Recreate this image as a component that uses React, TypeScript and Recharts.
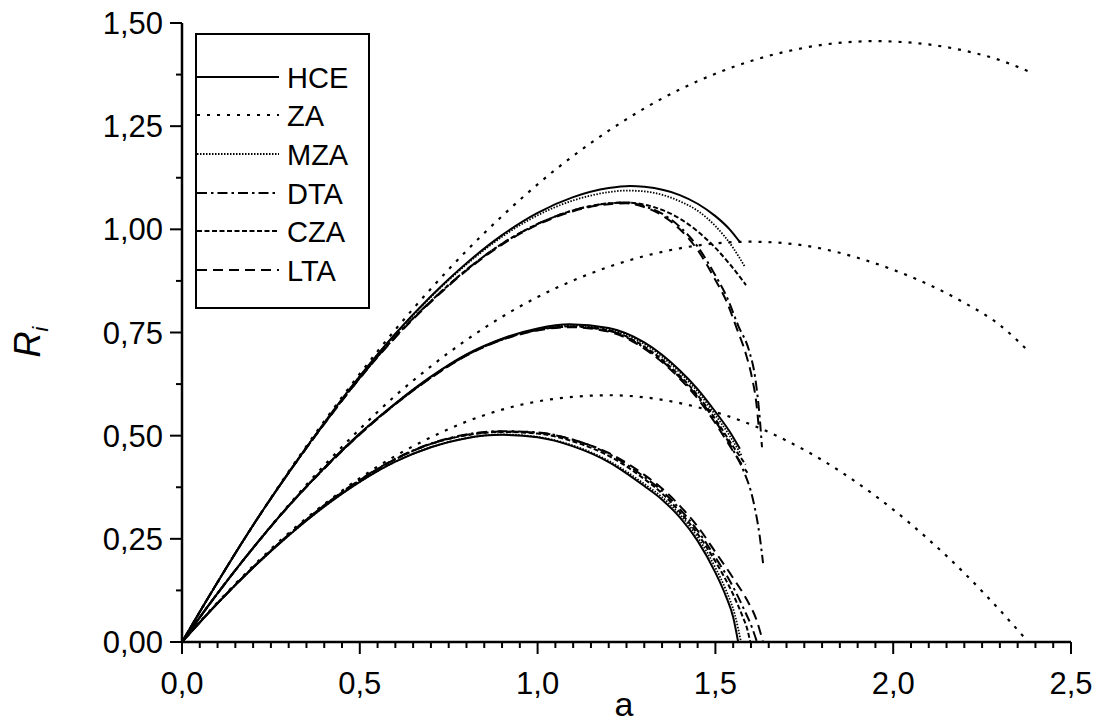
import React from 'react';
import { LineChart, Line, XAxis, YAxis } from 'recharts';

type Pt = [number, number];

// axis ticks
const X_MAJOR = [0, 0.5, 1, 1.5, 2, 2.5];
const Y_MAJOR = [0, 0.25, 0.5, 0.75, 1, 1.25, 1.5];
const X_TICKS = Array.from({ length: 51 }, (_, i) => +(i * 0.05).toFixed(2));
const Y_TICKS = Array.from({ length: 13 }, (_, i) => i * 0.125);

// upper family
const HCE_1: Pt[] = [[0, 0], [0.1, 0.145], [0.2, 0.283], [0.3, 0.411], [0.4, 0.531], [0.5, 0.644], [0.6, 0.747], [0.7, 0.838], [0.8, 0.918], [0.9, 0.986], [1.0, 1.04], [1.1, 1.078], [1.2, 1.1], [1.26, 1.105], [1.3, 1.103], [1.4, 1.083], [1.45, 1.062], [1.5, 1.032], [1.54, 1.0], [1.569, 0.969]];
const ZA_1: Pt[] = [[0, 0], [0.1, 0.145], [0.2, 0.283], [0.3, 0.413], [0.4, 0.535], [0.5, 0.65], [0.6, 0.757], [0.7, 0.856], [0.8, 0.948], [0.9, 1.032], [1.0, 1.109], [1.1, 1.178], [1.2, 1.239], [1.3, 1.293], [1.4, 1.339], [1.5, 1.377], [1.6, 1.408], [1.7, 1.431], [1.8, 1.447], [1.9, 1.455], [1.95, 1.456], [2.0, 1.455], [2.1, 1.448], [2.2, 1.433], [2.3, 1.41], [2.38, 1.383]];
const MZA_1: Pt[] = [[0, 0], [0.1, 0.145], [0.2, 0.283], [0.3, 0.411], [0.4, 0.531], [0.5, 0.644], [0.6, 0.746], [0.7, 0.836], [0.8, 0.915], [0.9, 0.982], [1.0, 1.034], [1.1, 1.07], [1.2, 1.09], [1.25, 1.094], [1.3, 1.092], [1.4, 1.068], [1.45, 1.045], [1.5, 1.008], [1.55, 0.955], [1.583, 0.909]];
const DTA_1: Pt[] = [[0, 0], [0.1, 0.145], [0.2, 0.283], [0.3, 0.41], [0.4, 0.529], [0.5, 0.64], [0.6, 0.74], [0.7, 0.826], [0.8, 0.902], [0.9, 0.965], [1.0, 1.013], [1.1, 1.046], [1.2, 1.063], [1.25, 1.065], [1.3, 1.056], [1.35, 1.038], [1.4, 1.006], [1.45, 0.958], [1.5, 0.888], [1.53, 0.84], [1.565, 0.765], [1.595, 0.705], [1.612, 0.64], [1.625, 0.54], [1.631, 0.472]];
const CZA_1: Pt[] = [[0, 0], [0.1, 0.145], [0.2, 0.283], [0.3, 0.41], [0.4, 0.529], [0.5, 0.64], [0.6, 0.74], [0.7, 0.826], [0.8, 0.902], [0.9, 0.965], [1.0, 1.013], [1.1, 1.046], [1.2, 1.063], [1.25, 1.065], [1.3, 1.06], [1.35, 1.047], [1.4, 1.026], [1.45, 0.995], [1.5, 0.955], [1.541, 0.915], [1.586, 0.865]];
const LTA_1: Pt[] = [[0, 0], [0.1, 0.145], [0.2, 0.283], [0.3, 0.41], [0.4, 0.528], [0.5, 0.639], [0.6, 0.738], [0.7, 0.824], [0.8, 0.9], [0.9, 0.963], [1.0, 1.011], [1.1, 1.044], [1.2, 1.061], [1.25, 1.063], [1.3, 1.054], [1.35, 1.034], [1.4, 1.0], [1.45, 0.95], [1.5, 0.877], [1.53, 0.828], [1.56, 0.76], [1.585, 0.7], [1.603, 0.64], [1.615, 0.58], [1.622, 0.52]];

// middle family
const HCE_2: Pt[] = [[0, 0], [0.1, 0.118], [0.2, 0.228], [0.3, 0.33], [0.4, 0.422], [0.5, 0.505], [0.6, 0.578], [0.7, 0.643], [0.8, 0.697], [0.9, 0.735], [1.0, 0.76], [1.09, 0.77], [1.2, 0.761], [1.3, 0.726], [1.4, 0.658], [1.45, 0.613], [1.5, 0.558], [1.54, 0.51], [1.569, 0.468]];
const ZA_2: Pt[] = [[0, 0], [0.1, 0.118], [0.2, 0.228], [0.3, 0.332], [0.4, 0.428], [0.5, 0.516], [0.6, 0.597], [0.7, 0.668], [0.8, 0.732], [0.9, 0.788], [1.0, 0.836], [1.1, 0.876], [1.2, 0.909], [1.3, 0.935], [1.4, 0.954], [1.5, 0.966], [1.6, 0.97], [1.7, 0.966], [1.8, 0.953], [1.9, 0.931], [2.0, 0.902], [2.1, 0.866], [2.2, 0.822], [2.3, 0.768], [2.38, 0.705]];
const MZA_2: Pt[] = [[0, 0], [0.1, 0.118], [0.2, 0.228], [0.3, 0.33], [0.4, 0.422], [0.5, 0.505], [0.6, 0.578], [0.7, 0.642], [0.8, 0.696], [0.9, 0.734], [1.0, 0.758], [1.09, 0.767], [1.2, 0.758], [1.3, 0.722], [1.4, 0.653], [1.45, 0.607], [1.5, 0.55], [1.54, 0.5], [1.575, 0.45]];
const DTA_2: Pt[] = [[0, 0], [0.1, 0.118], [0.2, 0.228], [0.3, 0.33], [0.4, 0.421], [0.5, 0.504], [0.6, 0.577], [0.7, 0.641], [0.8, 0.695], [0.9, 0.733], [1.0, 0.756], [1.09, 0.764], [1.2, 0.754], [1.3, 0.713], [1.4, 0.641], [1.45, 0.594], [1.5, 0.535], [1.55, 0.465], [1.578, 0.417], [1.606, 0.344], [1.625, 0.254], [1.634, 0.191]];
const CZA_2: Pt[] = [[0, 0], [0.1, 0.118], [0.2, 0.228], [0.3, 0.33], [0.4, 0.421], [0.5, 0.504], [0.6, 0.577], [0.7, 0.641], [0.8, 0.695], [0.9, 0.733], [1.0, 0.757], [1.09, 0.765], [1.2, 0.755], [1.3, 0.716], [1.4, 0.645], [1.45, 0.598], [1.5, 0.54], [1.545, 0.48], [1.585, 0.43]];
const LTA_2: Pt[] = [[0, 0], [0.1, 0.118], [0.2, 0.228], [0.3, 0.329], [0.4, 0.42], [0.5, 0.503], [0.6, 0.576], [0.7, 0.64], [0.8, 0.694], [0.9, 0.732], [1.0, 0.755], [1.09, 0.763], [1.2, 0.752], [1.3, 0.711], [1.4, 0.638], [1.45, 0.59], [1.5, 0.53], [1.55, 0.462], [1.59, 0.41]];

// lower family
const HCE_3: Pt[] = [[0, 0], [0.1, 0.094], [0.2, 0.18], [0.3, 0.258], [0.4, 0.328], [0.5, 0.388], [0.6, 0.437], [0.7, 0.472], [0.8, 0.494], [0.9, 0.502], [1.0, 0.496], [1.1, 0.474], [1.2, 0.436], [1.3, 0.378], [1.35, 0.345], [1.4, 0.302], [1.45, 0.245], [1.5, 0.168], [1.53, 0.11], [1.55, 0.06], [1.564, 0]];
const ZA_3: Pt[] = [[0, 0], [0.1, 0.096], [0.2, 0.184], [0.3, 0.264], [0.4, 0.334], [0.5, 0.397], [0.6, 0.451], [0.7, 0.496], [0.8, 0.534], [0.9, 0.563], [1.0, 0.583], [1.1, 0.594], [1.2, 0.598], [1.3, 0.593], [1.4, 0.579], [1.5, 0.557], [1.6, 0.527], [1.7, 0.488], [1.8, 0.441], [1.9, 0.385], [2.0, 0.321], [2.1, 0.248], [2.2, 0.167], [2.3, 0.077], [2.38, 0]];
const MZA_3: Pt[] = [[0, 0], [0.1, 0.094], [0.2, 0.18], [0.3, 0.258], [0.4, 0.328], [0.5, 0.388], [0.6, 0.437], [0.7, 0.472], [0.8, 0.494], [0.9, 0.503], [1.0, 0.497], [1.1, 0.476], [1.2, 0.439], [1.3, 0.383], [1.35, 0.351], [1.4, 0.309], [1.45, 0.254], [1.5, 0.18], [1.53, 0.125], [1.555, 0.065], [1.572, 0]];
const DTA_3: Pt[] = [[0, 0], [0.1, 0.094], [0.2, 0.181], [0.3, 0.26], [0.4, 0.331], [0.5, 0.393], [0.6, 0.444], [0.7, 0.481], [0.8, 0.503], [0.9, 0.511], [1.0, 0.508], [1.1, 0.49], [1.2, 0.456], [1.3, 0.4], [1.35, 0.366], [1.4, 0.322], [1.45, 0.27], [1.5, 0.205], [1.55, 0.133], [1.58, 0.08], [1.603, 0.035], [1.617, 0]];
const CZA_3: Pt[] = [[0, 0], [0.1, 0.094], [0.2, 0.181], [0.3, 0.26], [0.4, 0.331], [0.5, 0.392], [0.6, 0.443], [0.7, 0.48], [0.8, 0.501], [0.9, 0.509], [1.0, 0.505], [1.1, 0.486], [1.2, 0.451], [1.3, 0.395], [1.35, 0.36], [1.4, 0.315], [1.45, 0.262], [1.5, 0.195], [1.55, 0.115], [1.575, 0.065], [1.59, 0.03], [1.598, 0]];
const LTA_3: Pt[] = [[0, 0], [0.1, 0.094], [0.2, 0.181], [0.3, 0.26], [0.4, 0.331], [0.5, 0.392], [0.6, 0.443], [0.7, 0.48], [0.8, 0.502], [0.9, 0.51], [1.0, 0.507], [1.1, 0.49], [1.2, 0.458], [1.3, 0.405], [1.35, 0.372], [1.4, 0.33], [1.45, 0.28], [1.5, 0.218], [1.55, 0.155], [1.59, 0.1], [1.615, 0.055], [1.634, 0]];

const SERIES = [
  { name: 'HCE', dash: undefined, width: 2, curves: [HCE_1, HCE_2, HCE_3] },
  { name: 'ZA', dash: '3 7', width: 2.2, curves: [ZA_1, ZA_2, ZA_3] },
  { name: 'MZA', dash: '1.5 1.5', width: 1.8, curves: [MZA_1, MZA_2, MZA_3] },
  { name: 'DTA', dash: '10 4 2.5 4', width: 2, curves: [DTA_1, DTA_2, DTA_3] },
  { name: 'CZA', dash: '5 2.5', width: 2, curves: [CZA_1, CZA_2, CZA_3] },
  { name: 'LTA', dash: '10 6', width: 2, curves: [LTA_1, LTA_2, LTA_3] },
];

const FONT = '"Liberation Sans", Arial, sans-serif';
const W = 1097;
const H = 726;

const near = (v: number, list: number[]) => list.some(m => Math.abs(m - v) < 1e-6);
const fmt = (v: number, d: number) => v.toFixed(d).replace('.', ',');

function BottomTick(props: any) {
  const { x, y, payload } = props;
  const major = near(payload.value, X_MAJOR);
  return (
    <g>
      <line x1={x} y1={y} x2={x} y2={y + (major ? 12 : 6)} stroke="#000" strokeWidth={2} />
      {major && (
        <text x={x} y={y + 52} textAnchor="middle" fontSize={31} fontFamily={FONT} fill="#000">
          {fmt(payload.value, 1)}
        </text>
      )}
    </g>
  );
}

function TopTick(props: any) {
  const { x, y, payload } = props;
  const major = near(payload.value, X_MAJOR);
  return <line x1={x} y1={y} x2={x} y2={y + (major ? 10 : 7)} stroke="#000" strokeWidth={2} />;
}

function LeftTick(props: any) {
  const { x, y, payload } = props;
  const major = near(payload.value, Y_MAJOR);
  return (
    <g>
      <line x1={x} y1={y} x2={x - (major ? 12 : 6)} y2={y} stroke="#000" strokeWidth={2} />
      {major && (
        <text x={x - 19} y={y} dy="0.36em" textAnchor="end" fontSize={31} fontFamily={FONT} fill="#000">
          {fmt(payload.value, 2)}
        </text>
      )}
    </g>
  );
}

function RightTick(props: any) {
  const { x, y } = props;
  return <line x1={x} y1={y} x2={x - 8} y2={y} stroke="#000" strokeWidth={2} />;
}

function LegendBox() {
  const rowY = [77, 115, 154, 193, 231, 270];
  return (
    <svg width={W} height={H} style={{ position: 'absolute', left: 0, top: 0, pointerEvents: 'none' }}>
      <rect x={196} y={34} width={173} height={274} fill="#fff" stroke="#000" strokeWidth={2} />
      {SERIES.map((s, i) => (
        <g key={s.name}>
          <line x1={197} y1={rowY[i]} x2={279} y2={rowY[i]} stroke="#000" strokeWidth={s.width} strokeDasharray={s.dash} />
          <text x={287} y={rowY[i] + 10.5} fontSize={29} fontFamily={FONT} fill="#000">{s.name}</text>
        </g>
      ))}
    </svg>
  );
}

export default function App() {
  return (
    <div style={{ position: 'absolute', left: 0, top: 0, width: W, height: H, background: '#fff' }}>
      <LineChart width={W} height={H} margin={{ top: 23, right: 26, bottom: 0, left: 0 }}>
        <XAxis
          xAxisId="bottom"
          dataKey="a"
          type="number"
          domain={[0, 2.5]}
          allowDataOverflow
          ticks={X_TICKS}
          interval={0}
          height={84}
          tickSize={0}
          tickMargin={0}
          tick={<BottomTick />}
          tickLine={false}
          axisLine={{ stroke: '#000', strokeWidth: 2.5 }}
        />
        <XAxis
          xAxisId="top"
          orientation="top"
          type="number"
          domain={[0, 2.5]}
          allowDataOverflow
          ticks={X_TICKS}
          interval={0}
          height={0}
          tickSize={0}
          tickMargin={0}
          tick={<TopTick />}
          tickLine={false}
          axisLine={{ stroke: '#000', strokeWidth: 2.5 }}
        />
        <YAxis
          yAxisId="left"
          type="number"
          domain={[0, 1.5]}
          allowDataOverflow
          ticks={Y_TICKS}
          interval={0}
          width={182}
          tickSize={0}
          tickMargin={0}
          tick={<LeftTick />}
          tickLine={false}
          axisLine={{ stroke: '#000', strokeWidth: 2.5 }}
        />
        <YAxis
          yAxisId="right"
          orientation="right"
          type="number"
          domain={[0, 1.5]}
          allowDataOverflow
          ticks={Y_TICKS}
          interval={0}
          width={0}
          tickSize={0}
          tickMargin={0}
          tick={<RightTick />}
          tickLine={false}
          axisLine={{ stroke: '#000', strokeWidth: 2.5 }}
        />
        {SERIES.flatMap(s =>
          s.curves.map((c, j) => (
            <Line
              key={`${s.name}-${j}`}
              xAxisId="bottom"
              yAxisId="left"
              data={c.map(([a, r]) => ({ a, r }))}
              dataKey="r"
              type="monotone"
              stroke="#000"
              strokeWidth={s.width}
              strokeDasharray={s.dash}
              dot={false}
              activeDot={false}
              isAnimationActive={false}
            />
          ))
        )}
        <text x={624} y={716} textAnchor="middle" fontSize={34} fontFamily={FONT} fill="#000">a</text>
        <text transform="translate(40,342) rotate(-90)" textAnchor="middle" fontSize={36} fontFamily={FONT} fill="#000">
          <tspan fontStyle="italic">R</tspan>
          <tspan fontStyle="italic" fontSize={22} dy={8}>i</tspan>
        </text>
      </LineChart>
      <LegendBox />
    </div>
  );
}
